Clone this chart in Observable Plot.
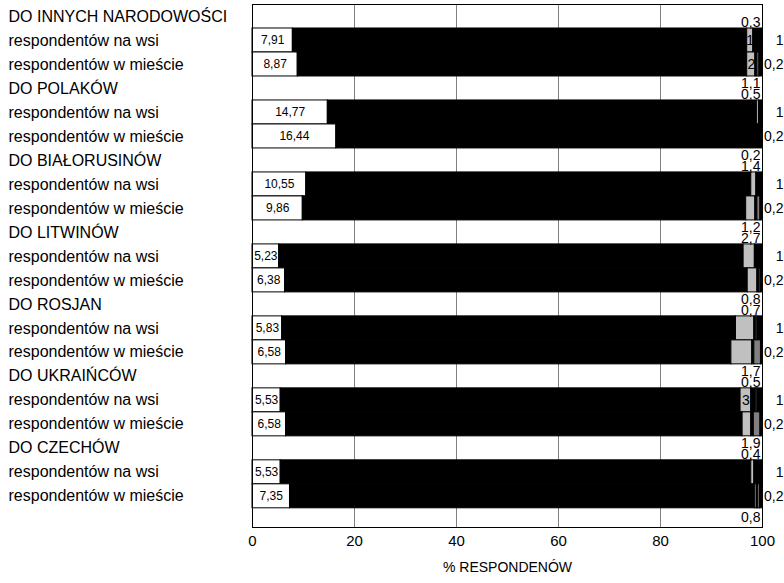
<!DOCTYPE html>
<html>
<head>
<meta charset="utf-8">
<script src="https://cdn.jsdelivr.net/npm/d3@7"></script>
<script src="https://cdn.jsdelivr.net/npm/@observablehq/plot@0.6"></script>
<style>
  html, body { margin: 0; padding: 0; background: #fff; }
  #chart svg { display: block; }
</style>
</head>
<body>
<div id="chart"></div>
<script>
// ---- data ----
const groups = ["DO INNYCH NARODOWOŚCI", "DO POLAKÓW", "DO BIAŁORUSINÓW", "DO LITWINÓW", "DO ROSJAN", "DO UKRAIŃCÓW", "DO CZECHÓW"];
const subRows = ["respondentów na wsi", "respondentów w mieście"];
// segments per bar, left to right (14 bars: wieś, miasto for each group)
const white      = [7.91, 8.87, 14.77, 16.44, 10.55, 9.86, 5.23, 6.38, 5.83, 6.58, 5.53, 6.58, 5.53, 7.35];
const black1     = [89.09, 88.13, 84.13, 83.56, 87.25, 86.94, 91.07, 90.72, 88.97, 87.32, 90.17, 89.52, 92.27, 91.25];
const lightGray  = [1.2, 1.6, 0.4, 0, 1.0, 1.8, 2.2, 1.9, 3.6, 4.1, 2.1, 1.7, 0.6, 0.3];
const black2     = [1.8, 0.4, 0.7, 0, 1.2, 0.4, 1.5, 0.3, 0.3, 0.4, 0.9, 0.5, 1.6, 0.3];
const lightGray2 = [0, 0, 0, 0, 0, 0, 0, 0.3, 0.3, 0, 0.3, 0, 0, 0.3];
const darkGray   = [0, 0.4, 0, 0, 0, 0.6, 0, 0, 0, 1.3, 0, 1.3, 0, 0];
const black3     = [0, 0.6, 0, 0, 0, 0.4, 0, 0.4, 1.0, 0.3, 1.0, 0.4, 0, 0.5];
const lightGrayLabels = ["1", "2", "", "", "", "", "", "", "", "", "3", "", "", ""];
const headTop    = ["", "1,1", "0,2", "1,2", "0,8", "1,7", "1,9"];
const headBottom = ["0,3", "0,5", "1,4", "2,7", "0,7", "0,5", "0,4"];
const footLabel  = "0,8";
const rightLabels = ["1", "0,2"];
const xTicks = [0, 20, 40, 60, 80, 100];
const axisTitle = "% RESPONDENÓW";

// ---- build tables ----
const slots = [
  {vals: white, color: "#ffffff"},
  {vals: black1, color: "#000000"},
  {vals: lightGray, color: "#c0c0c0"},
  {vals: black2, color: "#000000"},
  {vals: lightGray2, color: "#c0c0c0"},
  {vals: darkGray, color: "#808080"},
  {vals: black3, color: "#000000"}
];
const fmt = v => v.toFixed(2).replace(".", ",");

const labelRows = [];
const segs = [];
const bars = [];
const heads = [];
groups.forEach((g, gi) => {
  const h = gi * 3;
  labelRows.push({row: h, text: g});
  heads.push({row: h, top: headTop[gi], bottom: headBottom[gi]});
  subRows.forEach((s, k) => {
    const row = h + 1 + k;
    const j = gi * 2 + k;
    labelRows.push({row, text: s});
    let acc = 0;
    slots.forEach((sl, si) => {
      const v = sl.vals[j];
      if (v > 0) segs.push({row, x1: acc, x2: acc + v, color: sl.color, slot: si});
      acc += v;
    });
    bars.push({row, white: white[j], lgStart: white[j] + black1[j], lg: lightGray[j], lgLabel: lightGrayLabels[j], right: rightLabels[k]});
  });
});
const footRow = groups.length * 3;

const font = "'Liberation Sans', Arial, sans-serif";

const chart = Plot.plot({
  width: 784,
  height: 583,
  marginLeft: 252,
  marginRight: 22,
  marginTop: 4,
  marginBottom: 56,
  style: {fontFamily: font, fontSize: "14px", color: "#000", background: "#fff", overflow: "visible"},
  x: {domain: [0, 100], ticks: xTicks},
  y: {domain: [0, footRow + 0.8], reverse: true, axis: null},
  color: {type: "identity"},
  marks: [
    Plot.ruleX(xTicks.filter(t => t > 0 && t < 100), {stroke: "#808080", strokeWidth: 1}),
    Plot.rect(segs, {x1: "x1", x2: "x2", y1: d => d.row, y2: d => d.row + 1, fill: "color", stroke: "#000", strokeWidth: 1}),
    Plot.frame({stroke: "#000", strokeWidth: 1}),
    Plot.axisX({ticks: xTicks, tickSize: 0, tickPadding: 8, fontSize: 15, label: null}),
    Plot.text([axisTitle], {frameAnchor: "bottom", dy: 44, fontSize: 14}),
    // row labels at the left
    Plot.text(labelRows, {y: d => d.row + 0.5, text: "text", frameAnchor: "left", textAnchor: "start", dx: -244, fontSize: 16}),
    // white segment value labels
    Plot.text(bars, {x: d => d.white / 2, y: d => d.row + 0.5, text: d => fmt(d.white), fontSize: 12}),
    // light gray segment labels
    Plot.text(bars.filter(d => d.lgLabel), {x: d => d.lgStart + d.lg / 2, y: d => d.row + 0.5, text: "lgLabel", fontSize: 14}),
    // labels outside on the right
    Plot.text(bars, {y: d => d.row + 0.5, text: "right", frameAnchor: "right", textAnchor: "end", dx: 21, fontSize: 14}),
    // small labels in header rows
    Plot.text(heads, {y: d => d.row + 0.5, text: "top", frameAnchor: "right", textAnchor: "end", dx: -2, dy: -5, fontSize: 14}),
    Plot.text(heads, {y: d => d.row + 0.5, text: "bottom", frameAnchor: "right", textAnchor: "end", dx: -2, dy: 6, fontSize: 14}),
    Plot.text([footLabel], {y: () => footRow + 0.4, text: d => d, frameAnchor: "right", textAnchor: "end", dx: -2, fontSize: 14})
  ]
});
document.getElementById("chart").appendChild(chart);
</script>
</body>
</html>
